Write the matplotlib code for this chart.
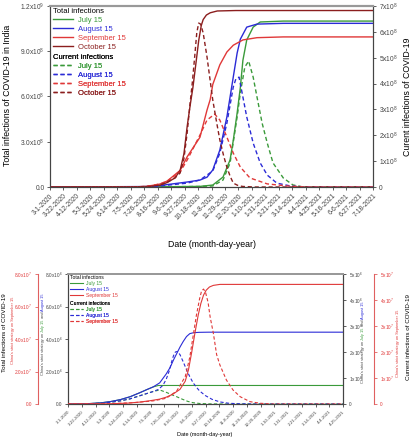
import numpy as np
import matplotlib.pyplot as plt
from matplotlib.lines import Line2D

plt.rcParams['font.family'] = ['Liberation Sans', 'DejaVu Sans']
plt.rcParams['mathtext.fontset'] = 'custom'
plt.rcParams['mathtext.rm'] = 'Liberation Sans'
plt.rcParams['mathtext.it'] = 'Liberation Sans:italic'
plt.rcParams['mathtext.bf'] = 'Liberation Sans:bold'

GREEN = '#3a9a3a'
BLUE = '#2b2bd6'
RED = '#e03838'
BROWN = '#8b1e1e'
SPINE = '#444444'

# ---------------- data ----------------
date_labels = ['3-1-2020', '3-22-2020', '4-12-2020', '5-3-2020', '5-24-2020', '6-14-2020',
               '7-5-2020', '7-26-2020', '8-16-2020', '9-6-2020', '9-27-2020', '10-18-2020',
               '11-8-2020', '11-29-2020', '12-20-2020', '1-10-2021', '1-31-2021', '2-21-2021',
               '3-14-2021', '4-4-2021', '4-25-2021', '5-16-2021', '6-6-2021', '6-27-2021',
               '7-18-2021']
scenarios = ['July 15', 'August 15', 'September 15', 'October 15']

# top panel: days since 3-1-2020, totals in 1e9, current in 1e8
jul_total_d = [0, 150, 187, 234, 254, 270, 281, 286, 292, 297, 301, 307, 317, 328, 364, 504]
jul_total = [0, 0.001, 0.002, 0.004, 0.013, 0.066, 0.18, 0.31, 0.49, 0.66, 0.84, 0.975, 1.06, 1.094, 1.10, 1.10]
jul_cur_d = [0, 150, 234, 254, 270, 281, 292, 297, 304, 310, 317, 323, 331, 339, 348, 364, 379, 395, 504]
jul_cur = [0, 0.005, 0.02, 0.04, 0.27, 0.93, 2.71, 3.64, 4.64, 4.87, 4.25, 3.48, 2.47, 1.70, 0.93, 0.35, 0.08, 0.0, 0]

aug_total_d = [0, 150, 172, 214, 234, 245, 254, 265, 276, 281, 286, 292, 297, 307, 323, 364, 504]
aug_total = [0, 0.003, 0.01, 0.033, 0.046, 0.065, 0.113, 0.245, 0.464, 0.597, 0.73, 0.888, 0.98, 1.06, 1.08, 1.085, 1.085]
aug_cur_d = [0, 150, 172, 214, 234, 254, 265, 276, 286, 290, 295, 301, 307, 317, 328, 339, 354, 375, 400, 504]
aug_cur = [0, 0.01, 0.04, 0.15, 0.27, 0.62, 1.31, 2.47, 3.87, 4.18, 4.25, 3.48, 2.71, 1.70, 0.93, 0.46, 0.15, 0.04, 0, 0]

sep_total_d = [0, 130, 150, 172, 183, 203, 214, 234, 245, 250, 254, 265, 276, 286, 301, 323, 364, 504]
sep_total = [0, 0.001, 0.003, 0.02, 0.04, 0.11, 0.20, 0.33, 0.51, 0.58, 0.68, 0.81, 0.895, 0.94, 0.975, 0.99, 0.995, 0.995]
sep_cur_d = [0, 130, 150, 172, 183, 203, 214, 234, 245, 257, 265, 276, 286, 297, 312, 339, 370, 400, 504]
sep_cur = [0, 0.005, 0.02, 0.12, 0.23, 0.58, 1.04, 2.01, 2.59, 2.82, 2.59, 1.93, 1.31, 0.77, 0.35, 0.12, 0.04, 0, 0]

oct_total_d = [0, 130, 156, 172, 183, 195, 203, 209, 214, 219, 223, 228, 232, 236, 239, 244, 250, 261, 290, 504]
oct_total = [0, 0.001, 0.004, 0.012, 0.03, 0.06, 0.11, 0.22, 0.40, 0.55, 0.66, 0.83, 0.97, 1.07, 1.11, 1.14, 1.155, 1.167, 1.17, 1.17]
oct_cur_d = [0, 130, 156, 172, 183, 195, 203, 209, 214, 218, 222, 226, 229, 232, 235, 239, 245, 250, 254,
             260, 265, 271, 276, 281, 286, 294, 301, 320, 504]
oct_cur = [0, 0.005, 0.02, 0.08, 0.19, 0.35, 0.54, 1.1, 2.09, 3.1, 4.02, 5.1, 5.96, 6.34, 6.3, 5.96, 5.03, 4.1, 3.36,
           2.5, 1.82, 1.2, 0.77, 0.42, 0.15, 0.05, 0.02, 0, 0]

# bottom panel (China's strict strategy): Jul/Aug in 1e6, Sep in 1e7
b_jul_total_d = [0, 30, 50, 65, 80, 95, 110, 120, 130, 138, 420]
b_jul_total = [0, 0.02, 0.07, 0.15, 0.27, 0.45, 0.7, 0.88, 1.05, 1.14, 1.14]
b_aug_total_d = [0, 30, 50, 65, 80, 95, 110, 120, 130, 140, 150, 156, 161, 166, 171, 176, 181, 186, 192, 200, 215, 420]
b_aug_total = [0, 0.02, 0.07, 0.15, 0.27, 0.45, 0.7, 0.88, 1.05, 1.3, 1.85, 2.25, 2.7, 3.1, 3.5, 3.85, 4.15, 4.33, 4.39, 4.41, 4.42, 4.42]
b_jul_cur_d = [0, 30, 50, 65, 80, 95, 110, 120, 130, 140, 150, 160, 166, 175, 183, 191, 201, 215, 240, 420]
b_jul_cur = [0, 0.01, 0.03, 0.07, 0.12, 0.2, 0.32, 0.4, 0.48, 0.54, 0.45, 0.34, 0.28, 0.18, 0.1, 0.05, 0.02, 0.005, 0, 0]
b_aug_cur_d = [0, 30, 50, 65, 80, 95, 110, 120, 130, 138, 145, 150, 155, 158, 161, 164, 167, 171, 176, 181,
               186, 191, 196, 201, 210, 220, 232, 245, 260, 280, 420]
b_aug_cur = [0, 0.01, 0.03, 0.07, 0.12, 0.2, 0.32, 0.4, 0.48, 0.56, 0.72, 0.95, 1.3, 1.6, 1.85, 2.0, 2.02, 1.9, 1.62, 1.32,
             1.05, 0.82, 0.65, 0.5, 0.32, 0.18, 0.08, 0.03, 0.01, 0, 0]
b_sep_total_d = [0, 60, 90, 110, 125, 140, 150, 160, 171, 179, 184, 189, 194, 199, 203, 207, 211, 216, 222, 232, 420]
b_sep_total = [0, 0.01, 0.05, 0.12, 0.2, 0.3, 0.42, 0.6, 0.9, 1.4, 2.1, 3.2, 4.4, 5.5, 6.2, 6.7, 7.0, 7.2, 7.3, 7.36, 7.36]
b_sep_cur_d = [0, 60, 100, 130, 150, 166, 179, 186, 191, 196, 201, 204, 207, 210, 214, 217, 222, 227, 232, 242,
               252, 263, 278, 293, 310, 420]
b_sep_cur = [0, 0.01, 0.05, 0.12, 0.22, 0.5, 1.05, 1.8, 2.6, 3.4, 4.05, 4.35, 4.42, 4.3, 3.9, 3.36, 2.72, 1.9, 1.5, 0.92,
             0.54, 0.28, 0.09, 0.03, 0, 0]

W, H = 416, 440
fig = plt.figure(figsize=(W / 100, H / 100), dpi=100)


def px(x0, y0, x1, y1):
    return [x0 / W, 1 - y1 / H, (x1 - x0) / W, (y1 - y0) / H]


def style(a, size, color=SPINE):
    a.tick_params(axis='both', direction='out', length=2.5, width=0.6, labelsize=size, pad=1.5, colors=color)
    for s in a.spines.values():
        s.set_linewidth(0.8)
        s.set_color(color)


def add_legend(a, title, handles, labels, colors, anchor, fs, hl, spacing):
    leg = a.legend(handles, labels, title=title, loc='upper left', bbox_to_anchor=anchor, frameon=False,
                   fontsize=fs, title_fontsize=fs, alignment='left', handlelength=hl, handletextpad=0.6,
                   labelspacing=spacing, borderpad=0, borderaxespad=0)
    for t, c in zip(leg.get_texts(), colors):
        t.set_color(c)
    a.add_artist(leg)


def stacked_label(a, x, y, parts, size):
    # vertical text built from coloured pieces, bottom to top
    prev = a.annotate(parts[0][0], xy=(x / W, 1 - y / H), xycoords='figure fraction', rotation=90,
                      fontsize=size, color=parts[0][1], ha='center', va='bottom', annotation_clip=False)
    for s, c in parts[1:]:
        prev = a.annotate(s, xy=(0.5, 1), xycoords=prev, rotation=90, fontsize=size, color=c,
                          ha='center', va='bottom', annotation_clip=False)


# ---------------- top panel ----------------
ax = fig.add_axes(px(50, 6, 373, 187))
axr = ax.twinx()
cols = [GREEN, BLUE, RED, BROWN]
tot = [(jul_total_d, jul_total), (aug_total_d, aug_total), (sep_total_d, sep_total), (oct_total_d, oct_total)]
cur = [(jul_cur_d, jul_cur), (aug_cur_d, aug_cur), (sep_cur_d, sep_cur), (oct_cur_d, oct_cur)]
for (d, v), c in zip(tot, cols):
    ax.plot(d, np.array(v) * 1e9, color=c, lw=1.0)
for (d, v), c in zip(cur, cols):
    axr.plot(d, np.array(v) * 1e8, color=c, lw=1.0, ls=(0, (3, 2)))

ticks = np.arange(len(date_labels)) * 21
ax.set_xlim(0, ticks[-1])
ax.set_xticks(ticks)
ax.set_xticklabels(date_labels, rotation=45, ha='right', rotation_mode='anchor')
ax.set_ylim(0, 1.2e9)
ax.set_yticks([0, 3e8, 6e8, 9e8, 1.2e9])
ax.set_yticklabels(['0.0', '3.0x10$^{8}$', '6.0x10$^{8}$', '9.0x10$^{8}$', '1.2x10$^{9}$'])
axr.set_ylim(0, 7e8)
axr.set_yticks(np.arange(8) * 1e8)
axr.set_yticklabels(['0'] + ['%dx10$^{8}$' % i for i in range(1, 8)])
style(ax, 4.8)
style(axr, 4.8)
for a in (ax, axr):
    a.spines['top'].set_color('#999999')
    a.spines['top'].set_linewidth(1.5)

fig.text(8 / W, 1 - 95 / H, 'Total infections of COVID-19 in India', rotation=90, fontsize=6.3,
         ha='center', va='center')
fig.text(408 / W, 1 - 97 / H, 'Curent infections of COVID-19', rotation=90, fontsize=6.3,
         ha='center', va='center')
fig.text(212 / W, 1 - 244 / H, 'Date (month-day-year)', fontsize=6.3, ha='center', va='center')

hs = [Line2D([], [], color=c, lw=1.0) for c in cols]
hd = [Line2D([], [], color=c, lw=1.0, ls=(0, (3, 2))) for c in cols]
add_legend(axr, 'Total infections', hs, scenarios, cols, (0.01, 0.99), 5.5, 2.6, 0.22)
add_legend(axr, 'Current infections', hd, scenarios, cols, (0.01, 0.735), 5.5, 2.6, 0.22)

# ---------------- bottom panel ----------------
bx = fig.add_axes(px(68, 274, 343, 404))
bxr = bx.twinx()
bxl2 = bx.twinx()
bxr2 = bx.twinx()

bx.plot(b_jul_total_d, np.array(b_jul_total) * 1e6, color=GREEN, lw=0.8)
bx.plot(b_aug_total_d, np.array(b_aug_total) * 1e6, color=BLUE, lw=0.8)
bxr.plot(b_jul_cur_d, np.array(b_jul_cur) * 1e6, color=GREEN, lw=0.8, ls=(0, (3, 2)))
bxr.plot(b_aug_cur_d, np.array(b_aug_cur) * 1e6, color=BLUE, lw=0.8, ls=(0, (3, 2)))
bxl2.plot(b_sep_total_d, np.array(b_sep_total) * 1e7, color=RED, lw=0.8)
bxr2.plot(b_sep_cur_d, np.array(b_sep_cur) * 1e7, color=RED, lw=0.8, ls=(0, (3, 2)))

bticks = ticks[:21]
bx.set_xlim(0, bticks[-1])
bx.set_xticks(bticks)
bx.set_xticklabels(date_labels[:21], rotation=45, ha='right', rotation_mode='anchor')

bx.set_ylim(0, 8e6)
bx.set_yticks(np.arange(5) * 2e6)
bx.set_yticklabels(['0.0'] + ['%.1fx10$^{6}$' % (2.0 * i) for i in range(1, 5)])
bxr.set_ylim(0, 5e6)
bxr.set_yticks(np.arange(6) * 1e6)
bxr.set_yticklabels(['0'] + ['%dx10$^{6}$' % i for i in range(1, 6)])
bxl2.set_ylim(0, 8e7)
bxl2.set_yticks(np.arange(5) * 2e7)
bxl2.set_yticklabels(['0.0'] + ['%.1fx10$^{7}$' % (2.0 * i) for i in range(1, 5)])
bxr2.set_ylim(0, 5e7)
bxr2.set_yticks(np.arange(6) * 1e7)
bxr2.set_yticklabels(['0'] + ['%dx10$^{7}$' % i for i in range(1, 6)])

bxl2.yaxis.tick_left()
bxl2.yaxis.set_label_position('left')
bxl2.spines['left'].set_position(('outward', 21.6))
bxr2.spines['right'].set_position(('outward', 22.3))

for a in (bx, bxr):
    style(a, 3.4)
    a.spines['top'].set_color('#999999')
    a.spines['top'].set_linewidth(1.4)
for a in (bxl2, bxr2):
    style(a, 3.4, color='#e06060')
    a.tick_params(labelcolor=RED)
    for k in ('top', 'bottom'):
        a.spines[k].set_visible(False)
bxl2.spines['right'].set_visible(False)
bxr2.spines['left'].set_visible(False)
bx.tick_params(axis='x', labelsize=3.2)

fig.text(205 / W, 1 - 434 / H, 'Date (month-day-year)', fontsize=4.0, ha='center', va='center')
fig.text(5 / W, 1 - 333 / H, 'Total infections of COVID-19', rotation=90, fontsize=4.5,
         ha='center', va='center')
fig.text(13 / W, 1 - 330 / H, "China's strict strategy on September 15", rotation=90, fontsize=2.8,
         color=RED, ha='center', va='center')
fig.text(408 / W, 1 - 337 / H, 'Current infections of COVID-19', rotation=90, fontsize=4.5,
         ha='center', va='center')
fig.text(398 / W, 1 - 343 / H, "China's strict strategy on September 15", rotation=90, fontsize=2.8,
         color=RED, ha='center', va='center')
mixed = [("China's strict strategy on ", SPINE), ('July 15', GREEN), (' and ', SPINE), ('August 15', BLUE)]
stacked_label(bxr2, 43, 375, mixed, 2.8)
stacked_label(bxr2, 363, 383, mixed, 2.8)

bcols = [GREEN, BLUE, RED]
bhs = [Line2D([], [], color=c, lw=0.8) for c in bcols]
bhd = [Line2D([], [], color=c, lw=0.8, ls=(0, (3, 2))) for c in bcols]
add_legend(bxr2, 'Total infections', bhs, scenarios[:3], bcols, (0.007, 0.99), 3.6, 2.6, 0.15)
add_legend(bxr2, 'Current infections', bhd, scenarios[:3], bcols, (0.007, 0.79), 3.6, 2.6, 0.15)

fig.savefig('out.png', dpi=100)
